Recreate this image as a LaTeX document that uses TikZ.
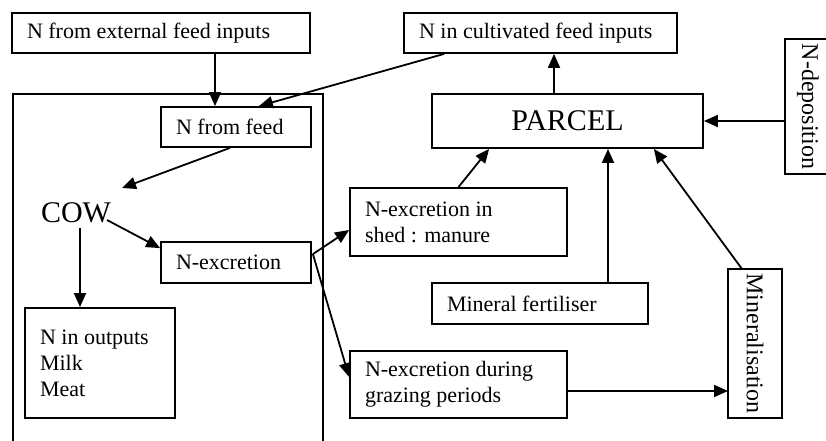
\documentclass[tikz,border=0pt]{standalone}
\usepackage{fontspec}
\setmainfont{Liberation Serif}
\usetikzlibrary{arrows.meta,calc}
\begin{document}
\begin{tikzpicture}[x=1pt,y=-1pt,
  box/.style={draw,line width=1.8pt,inner xsep=15pt,inner ysep=0pt,align=flush left,
    font=\fontsize{22}{26}\selectfont},
  vbox/.style={draw,line width=1.8pt,inner sep=0pt,rotate=-90,
    font=\fontsize{24}{28}\selectfont},
  big/.style={font=\fontsize{30}{34}\selectfont},
  arr/.style={line width=1.8pt,-{Triangle[length=14pt,width=12pt]}},
  ln/.style={line width=1.8pt}]
\useasboundingbox (0,0) rectangle (826,441);
% farm frame
\draw[ln] (13,446) -- (13,94) -- (323,94) -- (323,446);
% nodes
\node[box,text width=268pt,minimum height=40pt] (ext) at (161,33) {N from external feed inputs};
\node[box,text width=243pt,minimum height=40pt] (cult) at (540.5,33) {N in cultivated feed inputs};
\node[box,text width=120pt,minimum height=40pt] (feed) at (236,127) {N from feed};
\node[box,big,align=center,text width=241pt,minimum height=54pt] (parcel) at (567.5,121) {PARCEL};
\node[vbox,minimum width=135pt,minimum height=46pt] (ndep) at (808,106.5) {N-deposition};
\node[big,inner sep=0pt] (cow) at (76,213) {COW};
\node[box,text width=120pt,minimum height=41pt] (nexc) at (236,262.5) {N-excretion};
\node[box,text width=120pt,minimum height=110pt] (out) at (100,363) {N in outputs\\Milk\\Meat};
\node[box,text width=187pt,minimum height=68pt] (shed) at (458.5,222) {N-excretion in\\shed : manure};
\node[box,text width=186pt,minimum height=41pt] (minf) at (540,303.5) {Mineral fertiliser};
\node[box,text width=187pt,minimum height=67pt] (graz) at (458.5,384.5) {N-excretion during\\grazing periods};
\node[vbox,minimum width=149pt,minimum height=54pt] (minz) at (755,343.5) {Mineralisation};
% connectors
\draw[arr] ($(ext.south)+(54,0)$) -- ($(feed.north)+(-21,0)$);
\draw[arr] ($(cult.south west)+(41,0)$) -- ($(feed.north east)+(-53,0)$);
\draw[arr] ($(parcel.north)+(-13.5,0)$) -- ($(cult.south)+(13.5,0)$);
\draw[arr] ($(ndep.center)+(-23,14.5)$) -- (parcel.east);
\draw[arr] ($(feed.south)+(-6,0)$) -- ($(cow)+(46,-25)$);
\draw[arr] ($(cow)+(4,15)$) -- ($(out.north)+(-20,0)$);
\draw[arr] ($(cow)+(31,7)$) -- ($(nexc.north west)+(0,7)$);
\draw[arr] ($(nexc.north east)+(1,13)$) -- ($(shed.west)+(0,8)$);
\draw[arr] ($(nexc.north east)+(1,13)$) -- ($(graz.west)+(0,-7.5)$);
\draw[arr] (shed.north) -- ($(parcel.south west)+(58,0)$);
\draw[arr] ($(minf.north)+(68,0)$) -- ($(parcel.south)+(40.5,0)$);
\draw[arr] ($(minz.center)+(-13,-74.5)$) -- ($(parcel.south east)+(-50,0)$);
\draw[arr] ($(graz.east)+(0,6.5)$) -- ($(minz.center)+(-27,47.5)$);
\end{tikzpicture}
\end{document}
